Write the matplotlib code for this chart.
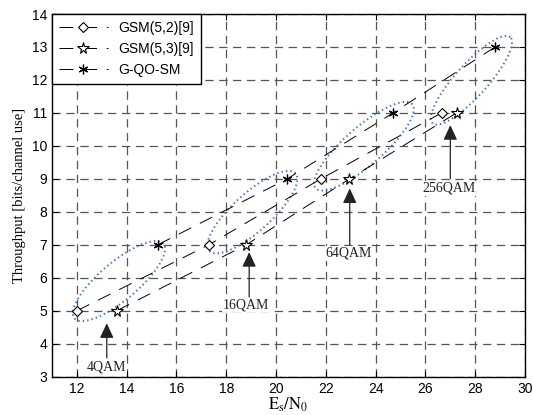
import numpy as np
import matplotlib
matplotlib.use('Agg')
import matplotlib.pyplot as plt

plt.rcParams['mathtext.fontset'] = 'stix'
plt.rcParams['lines.scale_dashes'] = False

# data
gsm52_x = [12.0, 17.3, 21.8, 26.65]
gsm52_y = [5, 7, 9, 11]
gsm53_x = [13.6, 18.8, 22.95, 27.25]
gsm53_y = [5, 7, 9, 11]
gqosm_x = [15.25, 20.45, 24.7, 28.8]
gqosm_y = [7, 9, 11, 13]

series_labels = ['GSM(5,2)[9]', 'GSM(5,3)[9]', 'G-QO-SM']
x_ticks = list(range(12, 31, 2))
y_ticks = list(range(3, 15))

# modulation annotations: label, arrow x, arrow tip y, arrow tail y, label y
mod_labels = ['4QAM', '16QAM', '64QAM', '256QAM']
mod_arrow_x = [13.2, 18.92, 22.96, 27.0]
mod_tip_y = [4.62, 6.78, 8.71, 10.63]
mod_tail_y = [3.57, 5.42, 6.99, 9.01]
mod_text_x = [13.18, 18.8, 22.93, 26.93]
mod_text_y = [3.30, 5.17, 6.74, 8.71]

# dotted ellipses: centre (data), semi axes (px), angle (deg on screen)
ell_cx = [13.69, 19.05, 23.53, 27.85]
ell_cy = [5.90, 7.99, 9.99, 11.99]
ell_a = [58, 58, 64, 58]
ell_b = [19, 19, 19, 16]
ell_ang = [40, 42, 41, 48]

W, H = 533, 415
fig = plt.figure(figsize=(W / 100, H / 100), dpi=100)
left, right, bottom, top = 52 / W, 525 / W, 1 - 376.7 / H, 1 - 14 / H
ax = fig.add_axes([left, bottom, right - left, top - bottom])

xlim = (11, 30)
ylim = (3, 14)
ax.set_xlim(*xlim)
ax.set_ylim(*ylim)

dash = (0, (10, 7))
lw = 0.7
ax.plot(gsm52_x, gsm52_y, color='k', lw=lw, linestyle=dash, marker='D',
        ms=5.5, mfc='white', mec='k', mew=0.8, label=series_labels[0], zorder=3)
ax.plot(gsm53_x, gsm53_y, color='k', lw=lw, linestyle=dash, marker='*',
        ms=8.5, mfc='white', mec='k', mew=0.8, label=series_labels[1], zorder=3)
ax.plot(gqosm_x, gqosm_y, color='k', lw=lw, linestyle=dash, marker=(6, 2, 0),
        ms=7, mec='k', mew=0.9, label=series_labels[2], zorder=3)

# ellipses in screen-proportional coordinates
sx = (right - left) * W / (xlim[1] - xlim[0])
sy = (top - bottom) * H / (ylim[1] - ylim[0])
t = np.linspace(0, 2 * np.pi, 200)
for cx, cy, a, b, ang in zip(ell_cx, ell_cy, ell_a, ell_b, ell_ang):
    th = np.deg2rad(ang)
    dx = a * np.cos(t) * np.cos(th) - b * np.sin(t) * np.sin(th)
    dy = a * np.cos(t) * np.sin(th) + b * np.sin(t) * np.cos(th)
    ax.plot(cx + dx / sx, cy + dy / sy, color='#3c6fb4', lw=1.4,
            linestyle=(0, (1, 2.2)), zorder=2)

for lab, xa, ty, tl, txx, tyy in zip(mod_labels, mod_arrow_x, mod_tip_y,
                                     mod_tail_y, mod_text_x, mod_text_y):
    ax.annotate('', xy=(xa, ty), xytext=(xa, tl),
                arrowprops=dict(arrowstyle='-|>,head_length=0.9,head_width=0.42',
                                color='#222222', lw=0.9, mutation_scale=10,
                                shrinkA=0, shrinkB=0), zorder=4)
    ax.text(txx, tyy, lab, ha='center', va='center', fontsize=10,
            family='Liberation Serif', color='#222222', zorder=4,
            bbox=dict(facecolor='white', edgecolor='none', pad=0.5))

ax.set_xticks(x_ticks)
ax.set_yticks(y_ticks)
ax.tick_params(direction='in', length=4, width=0.8, top=True, right=True,
               labelsize=10)
for lbl in ax.get_xticklabels() + ax.get_yticklabels():
    lbl.set_family('Liberation Sans')
ax.grid(True, color='#555555', linestyle=(0, (6, 4)), lw=0.9, zorder=0)
ax.set_axisbelow(True)
for s in ax.spines.values():
    s.set_linewidth(1.0)

ax.set_xlabel(r'$\mathrm{E_s/N_0}$', fontsize=12, labelpad=0)
ax.set_ylabel('Throughput [bits/channel use]', fontsize=10.5,
              family='Liberation Serif', labelpad=4)

leg = ax.legend(loc='upper left', borderaxespad=0, fancybox=False,
                edgecolor='k', framealpha=1, handlelength=3.5,
                handletextpad=0.8, labelspacing=0.5, borderpad=0.5,
                prop={'family': 'Liberation Sans', 'size': 10})
leg.get_frame().set_linewidth(1.0)

fig.savefig('out.png', dpi=100)
